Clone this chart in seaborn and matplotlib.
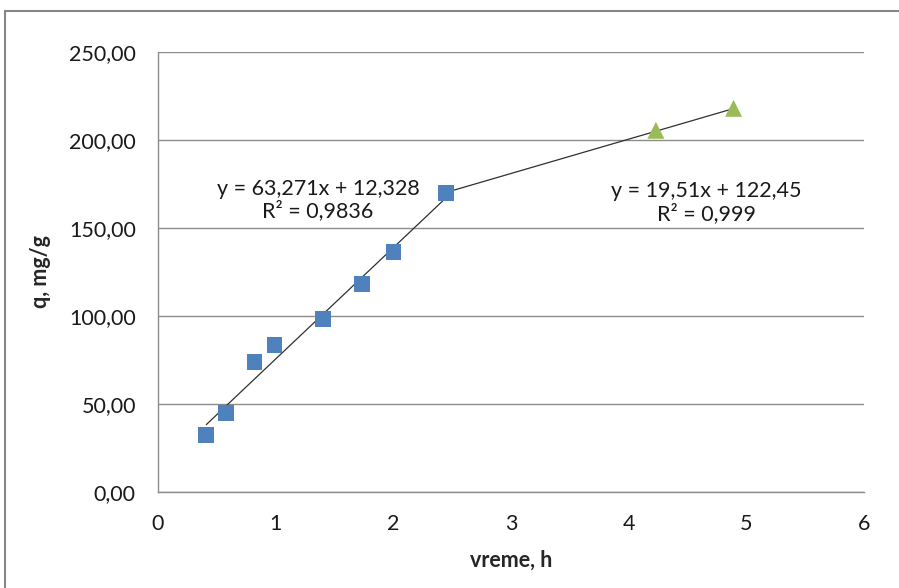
import numpy as np
import pandas as pd
import matplotlib
matplotlib.use("Agg")
import matplotlib.pyplot as plt
from matplotlib.ticker import FuncFormatter, MultipleLocator
from matplotlib.lines import Line2D
import seaborn as sns

# faza 1 (plavi kvadrati) i faza 2 (zeleni trouglovi)
t1 = [0.41, 0.58, 0.82, 0.99, 1.40, 1.73, 2.00, 2.45]
q1 = [32.5, 45.0, 74.0, 83.5, 98.5, 118.0, 136.5, 170.0]
t2 = [4.23, 4.89]
q2 = [205.5, 218.0]

# koeficijenti trend linija (y = a*x + b)
fit1 = (63.271, 12.328, 0.9836)
fit2 = (19.51, 122.45, 0.999)

sns.set_style("white")
plt.rcParams['font.family'] = ['Lato', 'DejaVu Sans']
FS = 15.5

fig = plt.figure(figsize=(8.99, 5.88), dpi=100)
ax = fig.add_axes([0.1758, 0.1633, 0.7855, 0.7483])

# okvir grafikona (odsecen desno i dole kao na slici)
top_y = 1 - 11 / 588
left_x = 5 / 899
fig.lines.append(Line2D([left_x, 1.0], [top_y, top_y], transform=fig.transFigure,
                        color="#868686", linewidth=1.5))
fig.lines.append(Line2D([left_x, left_x], [0.0, top_y], transform=fig.transFigure,
                        color="#868686", linewidth=1.5))

ax.yaxis.grid(True, color="#8c8c8c", linewidth=1)
ax.set_axisbelow(True)

# trend linije
x_a = np.array([min(t1), max(t1)])
sns.lineplot(x=x_a, y=fit1[0] * x_a + fit1[1], ax=ax, color="#303030", linewidth=0.9)
x_b = np.array([max(t1), max(t2)])
sns.lineplot(x=x_b, y=fit2[0] * x_b + fit2[1], ax=ax, color="#303030", linewidth=0.9)

sns.scatterplot(x=t1, y=q1, ax=ax, marker="s", s=130, color="#4F81BD",
                edgecolor="none", zorder=3)
sns.scatterplot(x=t2, y=q2, ax=ax, marker="^", s=150, color="#9BBB59",
                edgecolor="none", zorder=3)

def fmt_eq(a, b, r2):
    s = lambda v: f"{v}".replace(".", ",")
    return f"y = {s(a)}x + {s(b)}\nR² = {s(r2)}"

ax.text(1.36, 166, fmt_eq(*fit1), ha="center", va="center", fontsize=FS,
        color="#1a1a1a", linespacing=1.1)
ax.text(4.66, 164.5, fmt_eq(*fit2), ha="center", va="center", fontsize=FS,
        color="#1a1a1a", linespacing=1.1)

ax.set_xlim(0, 6)
ax.set_ylim(0, 250)
ax.xaxis.set_major_locator(MultipleLocator(1))
ax.yaxis.set_major_locator(MultipleLocator(50))
ax.yaxis.set_major_formatter(FuncFormatter(lambda v, p: f"{v:.2f}".replace(".", ",")))
ax.tick_params(axis="both", length=0, labelsize=FS, colors="#1a1a1a")
ax.tick_params(axis="x", pad=16)
ax.tick_params(axis="y", pad=16)

for side in ["top", "right"]:
    ax.spines[side].set_visible(False)
for side in ["left", "bottom"]:
    ax.spines[side].set_color("#8c8c8c")
    ax.spines[side].set_linewidth(1)

ax.set_xlabel("vreme, h", fontsize=FS, fontweight="bold", labelpad=11)
ax.set_ylabel("q, mg/g", fontsize=FS, fontweight="bold", labelpad=13)

fig.savefig("out.png", dpi=100)
